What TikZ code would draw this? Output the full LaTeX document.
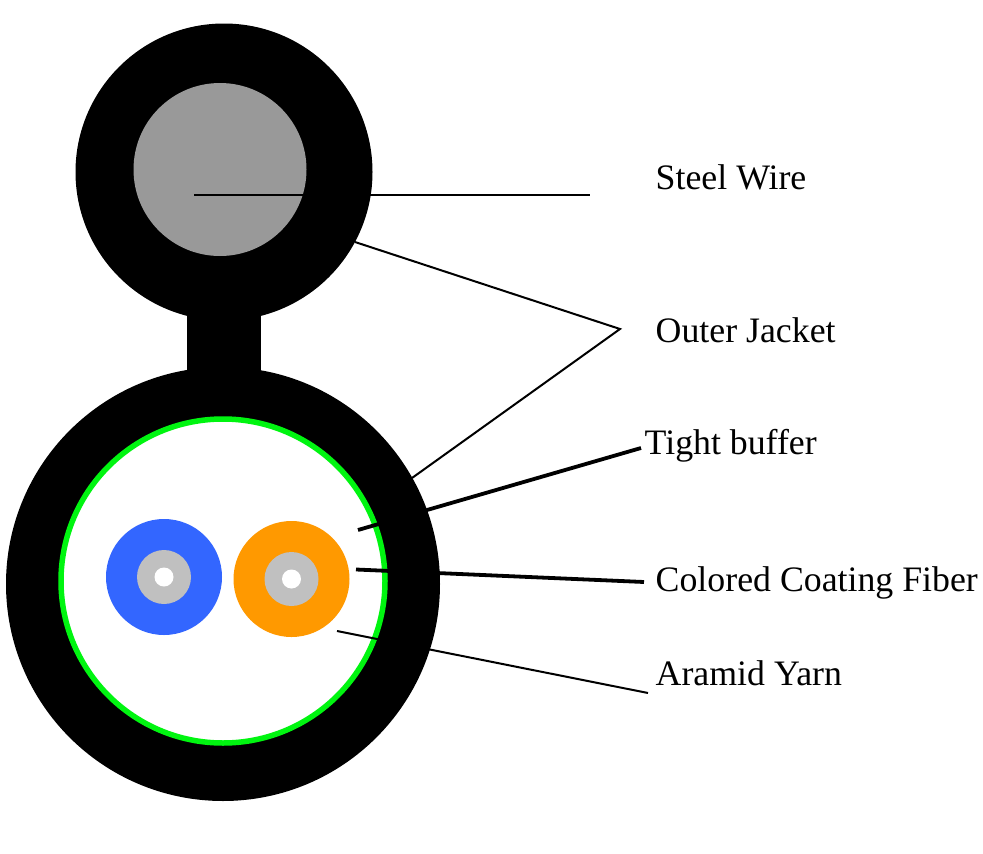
\documentclass[tikz,border=0pt]{standalone}
\usepackage{fontspec}
\setmainfont{Liberation Serif}
\definecolor{steelgrey}{HTML}{999999}
\definecolor{ringgreen}{HTML}{00F510}
\definecolor{fibreblue}{HTML}{3366FF}
\definecolor{fibreorange}{HTML}{FF9900}
\definecolor{coregrey}{HTML}{C0C0C0}
\tikzset{
  lab/.style={anchor=base west,inner sep=0pt,font=\fontsize{35.8pt}{40pt}\selectfont},
  thin lead/.style={draw=black,line width=2pt},
  thick lead/.style={draw=black,line width=3.8pt},
  disc/.style={circle,inner sep=0pt,minimum size=#1},
}
\begin{document}
\begin{tikzpicture}[x=1pt,y=-1pt]
\useasboundingbox (0,0) rectangle (983,854);
% jacket
\node[disc=297pt,fill=black] (top) at (224,172) {};
\node[disc=434pt,fill=black] (bot) at (223,584) {};
\fill[black] (187,300) rectangle (261,400);
\node[disc=173pt,fill=steelgrey] (steel) at (220,169.5) {};
\node[circle,inner sep=0pt,minimum size=324pt,fill=white,draw=ringgreen,line width=5.5pt] (inner) at (223,581) {};
% fibres
\node[disc=116pt,fill=fibreblue] (b1) at (164,577) {};
\node[disc=54pt,fill=coregrey] (b2) at (164,577) {};
\node[disc=19pt,fill=white] (b3) at (164,577) {};
\node[disc=116pt,fill=fibreorange] (o1) at (291.5,579) {};
\node[disc=54pt,fill=coregrey] (o2) at (291.5,579) {};
\node[disc=19pt,fill=white] (o3) at (291.5,579) {};
% labels
\node[lab] (l1) at (655.5,189) {Steel Wire};
\node[lab] (l2) at (655.5,342) {Outer Jacket};
\node[lab] (l3) at (644.5,454) {Tight buffer};
\node[lab] (l4) at (655.5,591) {Colored Coating Fiber};
\node[lab] (l5) at (655.5,685) {Aramid Yarn};
% leaders
\coordinate (a1) at (194,195); \coordinate (a2) at (590,195);
\coordinate (j) at (620,329);
\coordinate (j1) at (355,242); \coordinate (j2) at (412,478);
\coordinate (t1) at (358,530); \coordinate (t2) at (641,448);
\coordinate (c1) at (356,569.5); \coordinate (c2) at (644,582);
\coordinate (y1) at (337,631); \coordinate (y2) at (648,693);
\draw[thin lead] (a1) -- (a2);
\draw[thin lead] (j1) -- (j) -- (j2);
\draw[thick lead] (t1) -- (t2);
\draw[thick lead] (c1) -- (c2);
\draw[thin lead] (y1) -- (y2);
\end{tikzpicture}
\end{document}
